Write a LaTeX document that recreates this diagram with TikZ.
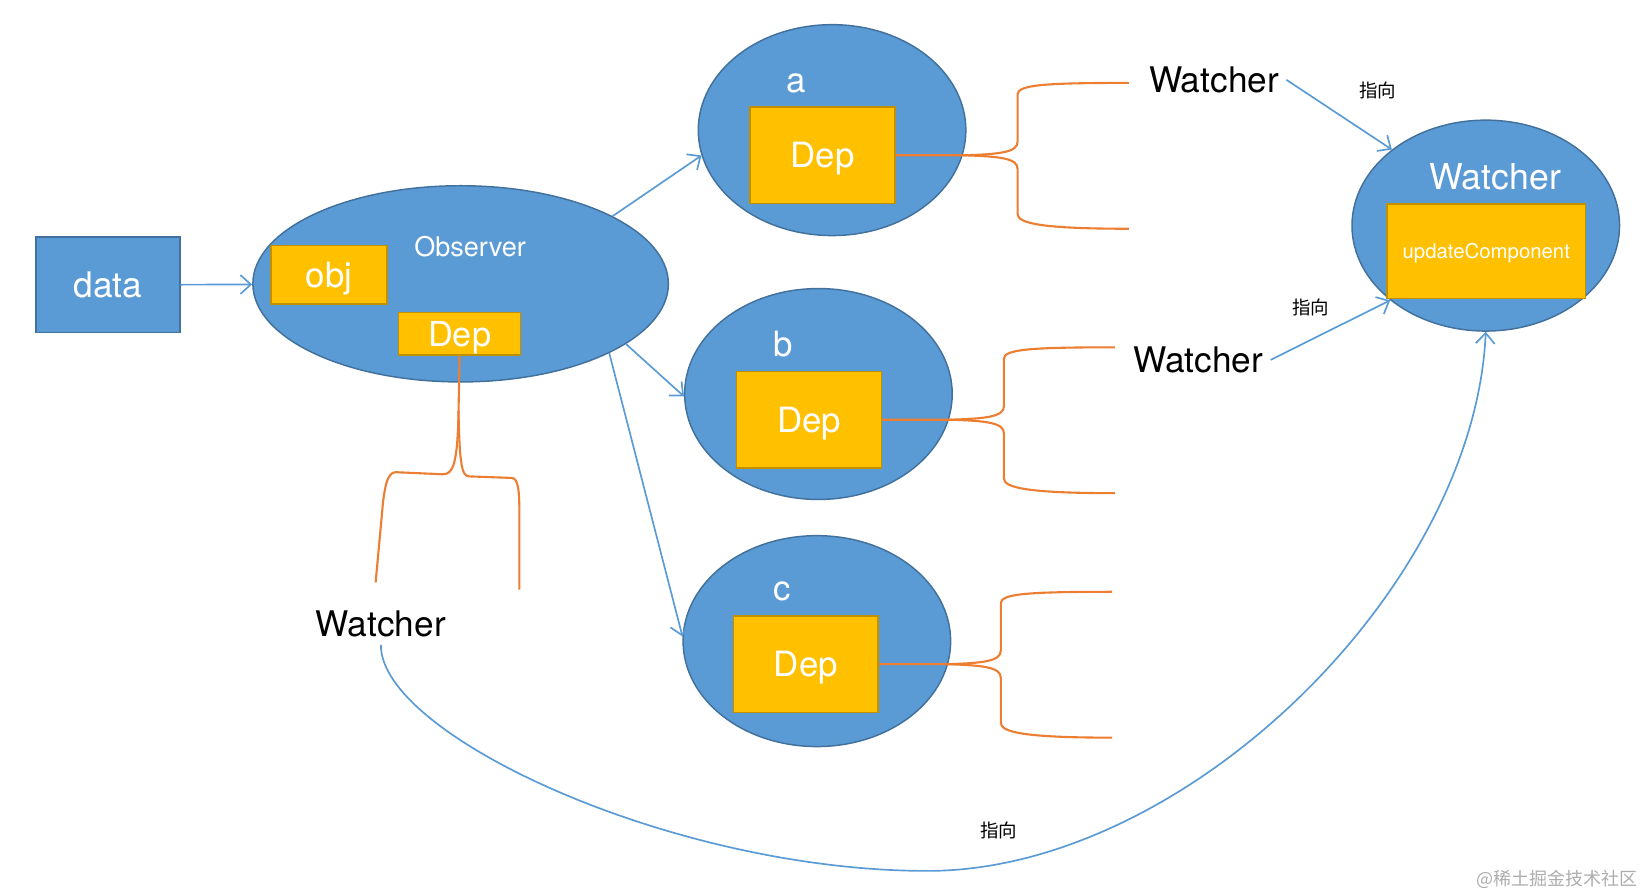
\documentclass[tikz,border=0pt]{standalone}
\usepackage{fontspec}
\setmainfont{TeX Gyre Heros}
\newfontfamily\cjk{Noto Sans CJK SC}
\usetikzlibrary{shapes.geometric,arrows.meta}
\definecolor{bluefill}{HTML}{5B9BD5}
\definecolor{blueline}{HTML}{41719C}
\definecolor{goldfill}{HTML}{FFC000}
\definecolor{goldline}{HTML}{C09000}
\definecolor{braceorange}{HTML}{ED7D31}
\tikzset{
	blob/.style={ellipse, draw=blueline, fill=bluefill, line width=0.7pt, inner sep=0pt},
	goldbox/.style={rectangle, draw=goldline, fill=goldfill, line width=0.8pt, inner sep=0pt, text=white, text depth=0pt},
	inlabel/.style={text=white, inner sep=0pt, font=\fontsize{16.6}{18}\selectfont},
	wtext/.style={font=\fontsize{16.8}{18}\selectfont},
	link/.style={draw=bluefill, line width=0.8pt, -{Straight Barb[length=5pt,width=9pt]}},
	depline/.style={draw=braceorange, line width=1pt},
	pointto/.style={font=\cjk\fontsize{8.8}{10}\selectfont},
	depbrace/.pic={
		\draw[depline] (0,0) -- (64,0) .. controls (100,-1) and (116,-3) .. (116,-13) -- (116,-58) .. controls (116,-67) and (140,-69) .. (222,-69);
		\draw[depline] (64,0) .. controls (100,1) and (116,3) .. (116,13) -- (116,56) .. controls (116,65) and (140,70) .. (222,70);
	}
}
\begin{document}
\begin{tikzpicture}[x=0.5pt,y=-0.5pt]
	\useasboundingbox (0,0) rectangle (1563,852);
	\node[rectangle, draw=blueline, fill=bluefill, line width=0.7pt, minimum width=68.5pt, minimum height=45.5pt, inner sep=0pt, text=white, font=\fontsize{16.8}{18}\selectfont] (data) at (103,271.5) {data};
	\node[blob, minimum width=198pt, minimum height=93.5pt] (obs) at (439,270.5) {};
	\node[inlabel, font=\fontsize{12.9}{14}\selectfont] (obsname) at (448,235) {Observer};
	\node[goldbox, minimum width=55.5pt, minimum height=28pt, font=\fontsize{16.6}{18}\selectfont] (obj) at (313.5,262) {obj};
	\node[goldbox, minimum width=58.2pt, minimum height=20.2pt, font=\fontsize{16.4}{18}\selectfont] (dep0) at (438,318) {Dep};

	\node[blob, minimum width=127.5pt, minimum height=100.5pt] (ella) at (793,124) {};
	\node[blob, minimum width=127.5pt, minimum height=100.5pt] (ellb) at (780,375.5) {};
	\node[blob, minimum width=127.5pt, minimum height=100.5pt] (ellc) at (778.5,611) {};
	\node[inlabel] (namea) at (759,79) {a};
	\node[inlabel] (nameb) at (746,328) {b};
	\node[inlabel] (namec) at (745,564) {c};
	\node[goldbox, minimum width=69pt, minimum height=46pt, font=\fontsize{16.6}{18}\selectfont] (depa) at (784,148) {Dep};
	\node[goldbox, minimum width=69pt, minimum height=46pt, font=\fontsize{16.6}{18}\selectfont] (depb) at (771,400) {Dep};
	\node[goldbox, minimum width=69pt, minimum height=46pt, font=\fontsize{16.6}{18}\selectfont] (depc) at (768,633) {Dep};

	\node[blob, minimum width=127.5pt, minimum height=100.5pt] (wel) at (1416,215) {};
	\node[inlabel, font=\fontsize{17}{18}\selectfont] (welname) at (1425,168) {Watcher};
	\node[goldbox, minimum width=94.5pt, minimum height=45pt, font=\fontsize{9.7}{11}\selectfont] (upd) at (1416.5,239.5) {updateComponent};

	\node[wtext] (w1) at (1157,76) {Watcher};
	\node[wtext] (w2) at (1142,343) {Watcher};
	\node[wtext] (w0) at (363,595) {Watcher};
	\node[pointto] (p1) at (1313,86) {指向};
	\node[pointto] (p2) at (1249,293) {指向};
	\node[pointto] (p3) at (952,791) {指向};

	\draw[link] (data) -- (obs);
	\draw[link] (obs.24.6) -- (ella.191);
	\draw[link] (obs.-20) -- (ellb.181);
	\draw[link] (obs.-25.4) -- (ellc.178);
	\draw[link] (w1.east) -- (wel.141.3);
	\draw[link] (w2.east) -- (wel.218.7);
	\draw[link] (w0.south) .. controls (362,700) and (640,830) .. (884,830) .. controls (1130,830) and (1405,560) .. (wel.south);

	\foreach \n in {a,b,c}
		\pic at (dep\n.east) {depbrace};
	\draw[depline] (dep0.south) -- (437,392) .. controls (436,442) and (432,452) .. (422,452) -- (377,450) .. controls (369,450) and (366,465) .. (364,490) -- (358,555);
	\draw[depline] (437,392) .. controls (438,442) and (440,454) .. (447,454) -- (488,455.5) .. controls (494,456) and (495,468) .. (495,490) -- (495,562);

	\node[anchor=east, inner sep=0pt, text=black!32, font=\cjk\fontsize{8.6}{10}\selectfont] (mark) at (1561,838) {@稀土掘金技术社区};
\end{tikzpicture}
\end{document}
